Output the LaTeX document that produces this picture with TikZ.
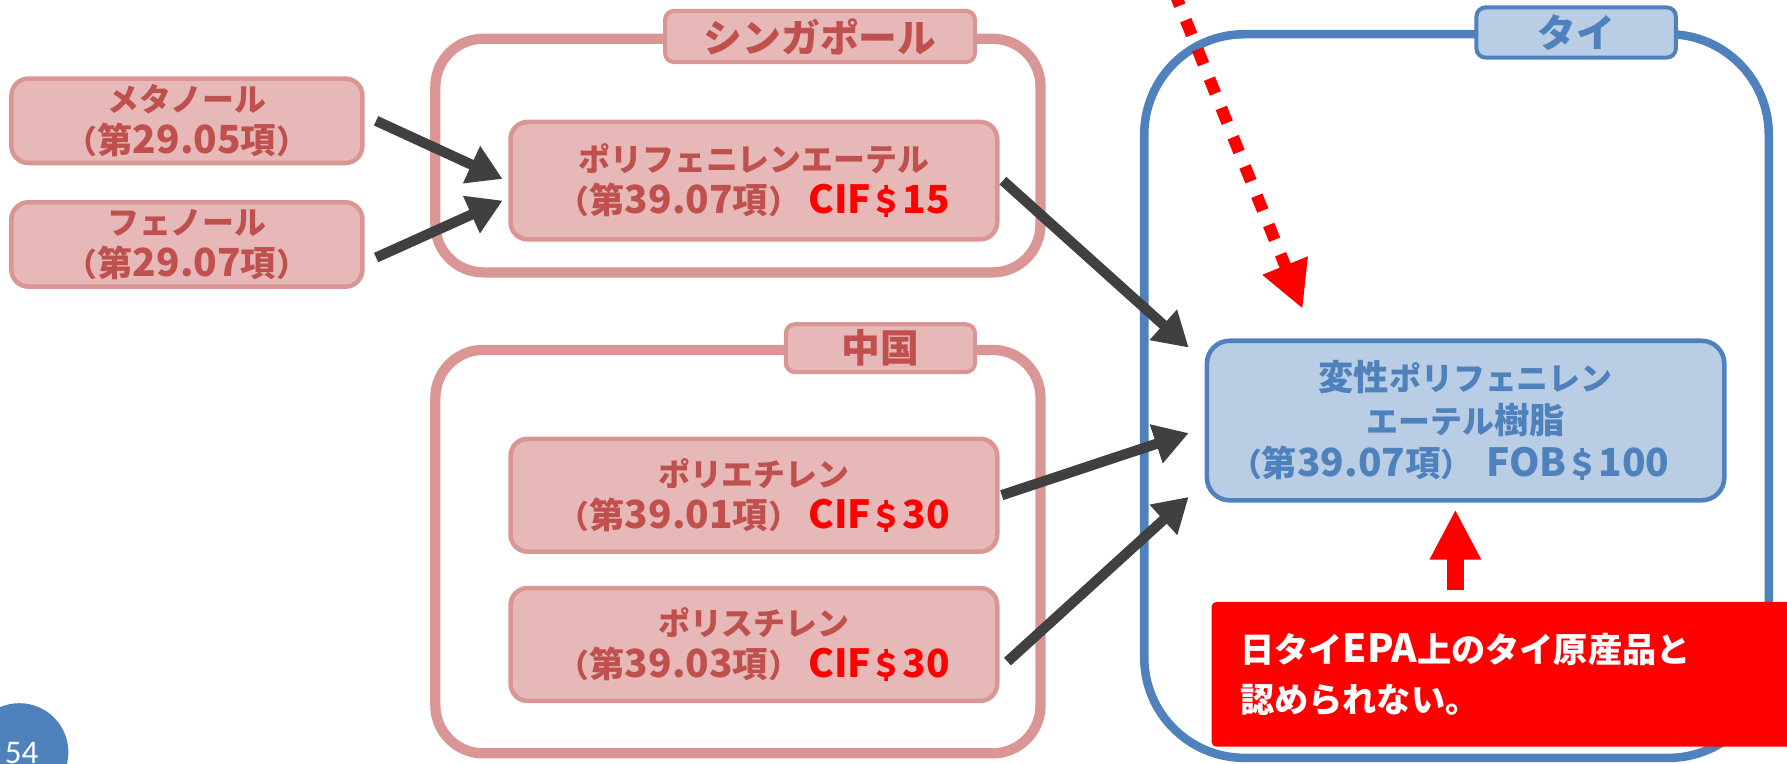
\documentclass[tikz,border=0pt]{standalone}
\usepackage{fontspec}
\setmainfont{Noto Sans CJK JP}
\newfontfamily\pagefont{Carlito}
\usetikzlibrary{arrows.meta,calc}
\definecolor{pinkfill}{HTML}{E6B9B8}
\definecolor{pinkline}{HTML}{D99694}
\definecolor{pinktext}{HTML}{C0504D}
\definecolor{bluefill}{HTML}{B9CDE5}
\definecolor{blueline}{HTML}{4F81BD}
\definecolor{arrowgray}{HTML}{404040}
\definecolor{pured}{HTML}{FF0000}
\newcommand{\lt}[1]{{\fontsize{34}{37}\selectfont #1}}
\newcommand{\kj}[1]{{\fontsize{31}{37}\selectfont #1}}
\tikzset{
  boxfont/.style={font=\bfseries\fontsize{28}{37}\selectfont},
  pinkbox/.style={draw=pinkline, fill=pinkfill, line width=4, rounded corners=15,
    text=pinktext, boxfont, align=center, inner sep=0},
  bluebox/.style={draw=blueline, fill=bluefill, line width=4, rounded corners=20,
    text=blueline, font=\bfseries\fontsize{28}{38}\selectfont, align=center, inner sep=0},
  outerpink/.style={draw=pinkline, line width=9, rounded corners=42, inner sep=0},
  outerblue/.style={draw=blueline, line width=7.5, rounded corners=88, inner sep=0},
  pinklabel/.style={draw=pinkline, fill=pinkfill, line width=3.5, rounded corners=8,
    text=pinktext, font=\bfseries\fontsize{34}{34}\selectfont, inner sep=0},
  bluelabel/.style={draw=blueline, fill=bluefill, line width=3.5, rounded corners=8,
    text=blueline, font=\bfseries\fontsize{34}{34}\selectfont, inner sep=0},
  blk/.style={draw=arrowgray, line width=9, -{Triangle[length=30pt,width=34pt]}},
  reddot/.style={draw=pured, line width=10.5, dash pattern=on 14pt off 13.7pt,
    -{Triangle[length=41pt,width=40pt]}},
  redup/.style={draw=pured, line width=15, -{Triangle[length=44pt,width=42pt]}},
  notebox/.style={fill=pured, rounded corners=4, text=white, align=left,
    font=\bfseries\fontsize{30}{44}\selectfont, inner xsep=25, inner ysep=0},
}
\begin{document}
\begin{tikzpicture}[x=1pt,y=-1pt]
\useasboundingbox (0,0) rectangle (1568,670);
\clip (0,0) rectangle (1568,670);
% outer containers
\node[outerpink, minimum width=531, minimum height=205] (sg) at (647.5,136.5) {};
\node[outerpink, minimum width=531, minimum height=354] (cn) at (647.5,484) {};
\node[outerblue, minimum width=548, minimum height=635] (th) at (1278,347.5) {};
% labels
\node[pinklabel, minimum width=272, minimum height=45] (sgl) at (719.5,32) {シンガポール};
\node[pinklabel, minimum width=166, minimum height=42] (cnl) at (772.5,305.5) {中国};
\node[bluelabel, minimum width=175, minimum height=44] (thl) at (1383,28.5) {タイ};
% boxes
\node[pinkbox, minimum width=308, minimum height=74] (meta) at (164,106)
  {メタノール\\（\kj{第}\lt{29.05}\kj{項}）};
\node[pinkbox, minimum width=308, minimum height=74] (phen) at (164,214.5)
  {フェノール\\（\kj{第}\lt{29.07}\kj{項}）};
\node[pinkbox, minimum width=427, minimum height=103] (poly) at (661.5,158.5)
  {ポリフェニレンエーテル\\（\kj{第}\lt{39.07}\kj{項}）\hspace{7pt}\textcolor{pured}{\lt{CIF}＄\lt{15}}};
\node[pinkbox, minimum width=427, minimum height=99] (pe) at (661.5,434.5)
  {ポリエチレン\\（\kj{第}\lt{39.01}\kj{項}）\hspace{7pt}\textcolor{pured}{\lt{CIF}＄\lt{30}}};
\node[pinkbox, minimum width=427, minimum height=99] (ps) at (661.5,565.5)
  {ポリスチレン\\（\kj{第}\lt{39.03}\kj{項}）\hspace{7pt}\textcolor{pured}{\lt{CIF}＄\lt{30}}};
\node[bluebox, minimum width=454, minimum height=140] (hen) at (1286,369)
  {\kj{変性}ポリフェニレン\\エーテル\kj{樹脂}\\（\kj{第}\lt{39.07}\kj{項}）\hspace{12pt}\lt{FOB}＄\lt{100}\hphantom{＄}};
% note box
\node[notebox, anchor=north west, minimum width=540, minimum height=127,
  text width=490] (note) at (1063,528)
  {\rule{0pt}{24pt}日タイ\lt{EPA}上のタイ原産品と\\認められない。};
% arrows
\draw[blk] ($(meta.east)+(10,0)$) -- ($(poly.west)+(-5,-1.5)$);
\draw[blk] ($(phen.east)+(10,11.5)$) -- ($(poly.west)+(-5,17.5)$);
\draw[blk] ($(poly.east)+(3,0)$) -- ($(hen.west)+(-14,-64)$);
\draw[blk] ($(pe.east)+(2,0)$) -- ($(hen.west)+(-14,11)$);
\draw[blk] ($(ps.east)+(7,15)$) -- ($(hen.west)+(-14,67)$);
\coordinate (dtop) at (1030,-8);
\coordinate (dtip) at (1143,271);
\draw[reddot] (dtop) -- (dtip);
\draw[redup] ($(note.north west)+(214,-10)$) -- ($(hen.south)+(-9,6)$);
% page number
\node[circle, fill=blueline, minimum size=86, inner sep=0] (pgc) at (17,660) {};
\node[text=white, font=\pagefont\fontsize{29}{29}\selectfont, anchor=base west, inner sep=0] (pg) at (4,669.5) {54};
\end{tikzpicture}
\end{document}
